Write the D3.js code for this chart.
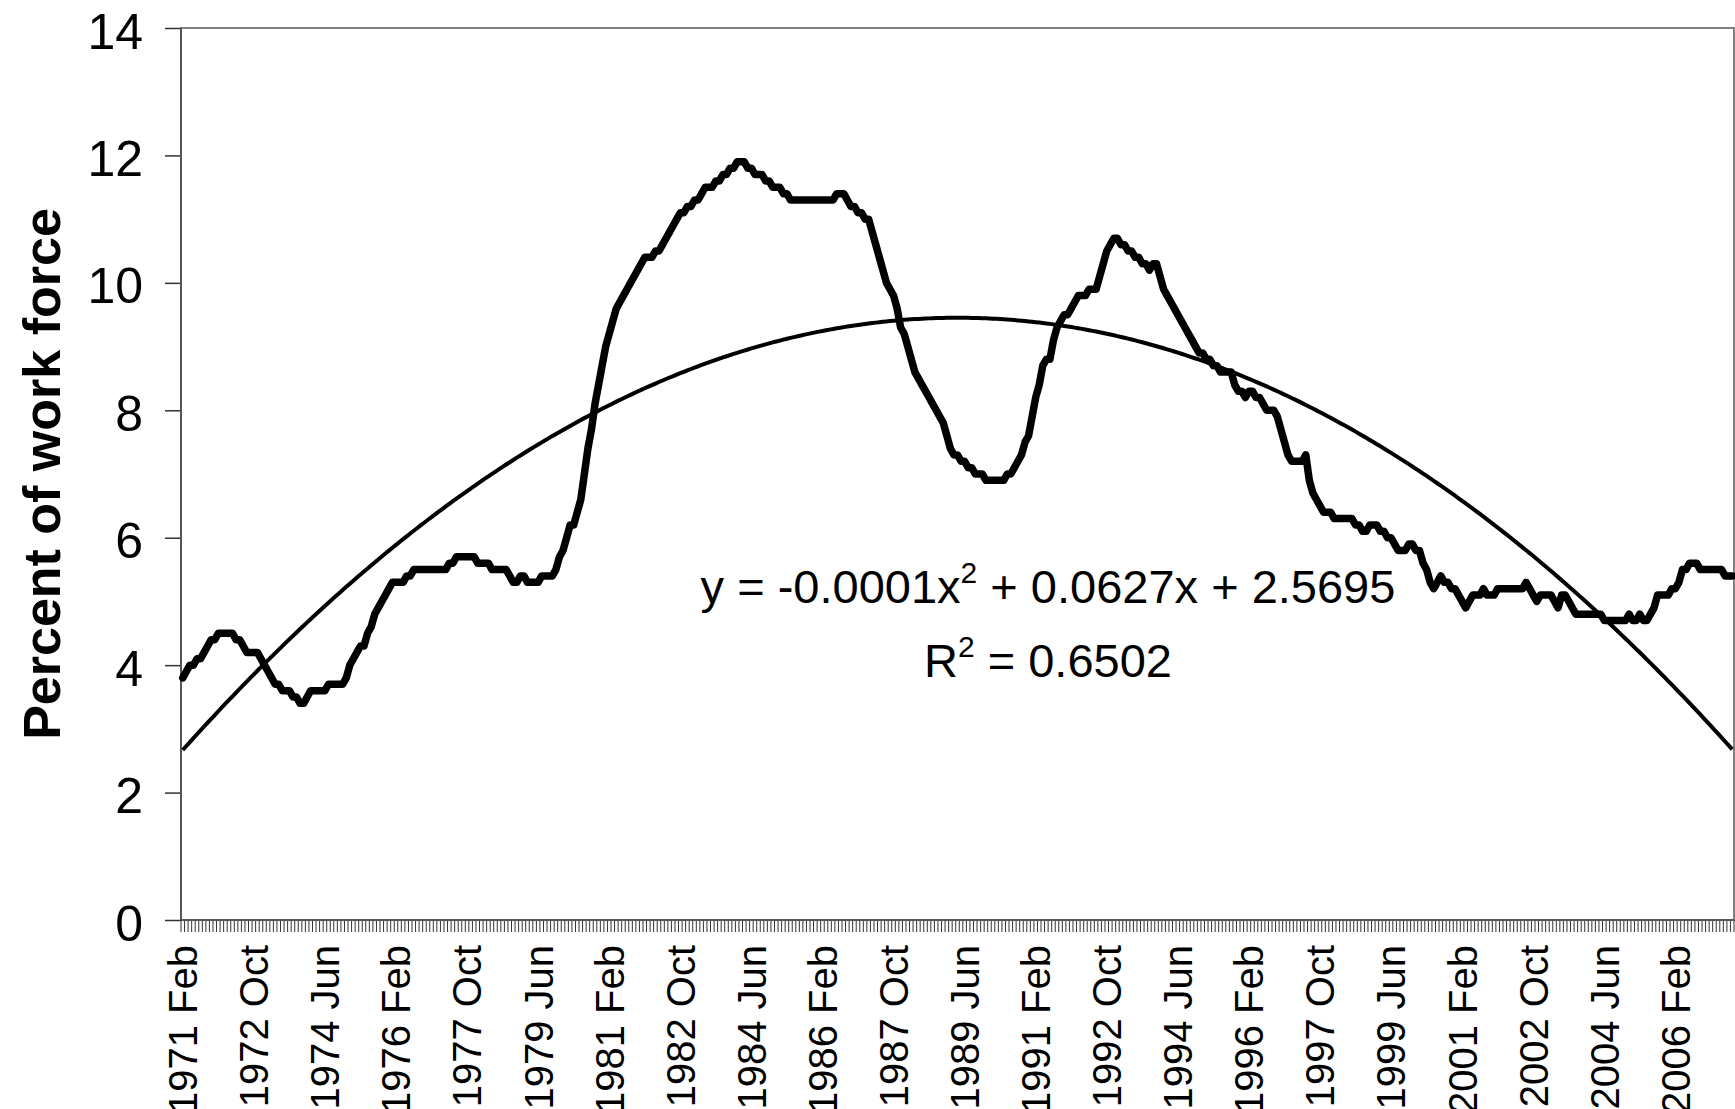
<!DOCTYPE html>
<html>
<head>
<meta charset="utf-8">
<script src="https://cdn.jsdelivr.net/npm/d3@7"></script>
<style>
  body { margin: 0; background: #fff; }
  text { font-family: "Liberation Sans", Arial, sans-serif; fill: #000; }
</style>
</head>
<body>
<script>
// chart size
const width = 1735;
const height = 1109;

// plot area
const plotLeft = 181;
const plotRight = 1734;
const plotTop = 28;
const plotBottom = 920;

// categories start in 1971 Feb, one per month
const startYear = 1971;
const startMonth = 1; // Feb
const monthNames = ["Jan", "Feb", "Mar", "Apr", "May", "Jun", "Jul", "Aug", "Sep", "Oct", "Nov", "Dec"];

// unemployment rate, percent of work force, one row per year
const rate1971 = [3.8, 3.9, 4.0, 4.0, 4.1, 4.1, 4.2, 4.3, 4.4, 4.4, 4.5];
const rate1972_1980 = [
  4.5, 4.5, 4.5, 4.5, 4.4, 4.4, 4.3, 4.2, 4.2, 4.2, 4.2, 4.1,
  4.0, 3.9, 3.8, 3.7, 3.7, 3.6, 3.6, 3.6, 3.5, 3.5, 3.4, 3.4,
  3.5, 3.6, 3.6, 3.6, 3.6, 3.6, 3.7, 3.7, 3.7, 3.7, 3.7, 3.8,
  4.0, 4.1, 4.2, 4.3, 4.3, 4.5, 4.6, 4.8, 4.9, 5.0, 5.1, 5.2,
  5.3, 5.3, 5.3, 5.3, 5.4, 5.4, 5.5, 5.5, 5.5, 5.5, 5.5, 5.5,
  5.5, 5.5, 5.5, 5.5, 5.6, 5.6, 5.7, 5.7, 5.7, 5.7, 5.7, 5.7,
  5.6, 5.6, 5.6, 5.6, 5.5, 5.5, 5.5, 5.5, 5.5, 5.4, 5.3, 5.3,
  5.4, 5.4, 5.3, 5.3, 5.3, 5.3, 5.4, 5.4, 5.4, 5.4, 5.5, 5.7,
  5.8, 6.0, 6.2, 6.2, 6.4, 6.6, 7.0, 7.4, 7.7, 8.1, 8.4, 8.7
];
const rate1981_1990 = [
  9.0, 9.2, 9.4, 9.6, 9.7, 9.8, 9.9, 10.0, 10.1, 10.2, 10.3, 10.4,
  10.4, 10.4, 10.5, 10.5, 10.6, 10.7, 10.8, 10.9, 11.0, 11.1, 11.1, 11.2,
  11.2, 11.3, 11.3, 11.4, 11.5, 11.5, 11.5, 11.6, 11.6, 11.7, 11.7, 11.8,
  11.8, 11.9, 11.9, 11.9, 11.8, 11.8, 11.7, 11.7, 11.7, 11.6, 11.6, 11.5,
  11.5, 11.5, 11.4, 11.4, 11.3, 11.3, 11.3, 11.3, 11.3, 11.3, 11.3, 11.3,
  11.3, 11.3, 11.3, 11.3, 11.3, 11.4, 11.4, 11.4, 11.3, 11.2, 11.2, 11.1,
  11.1, 11.0, 11.0, 10.8, 10.6, 10.4, 10.2, 10.0, 9.9, 9.8, 9.6, 9.3,
  9.2, 9.0, 8.8, 8.6, 8.5, 8.4, 8.3, 8.2, 8.1, 8.0, 7.9, 7.8,
  7.6, 7.4, 7.3, 7.3, 7.2, 7.2, 7.1, 7.1, 7.0, 7.0, 7.0, 6.9,
  6.9, 6.9, 6.9, 6.9, 6.9, 7.0, 7.0, 7.1, 7.2, 7.3, 7.5, 7.6
];
const rate1991_2000 = [
  7.9, 8.2, 8.4, 8.7, 8.8, 8.8, 9.1, 9.3, 9.4, 9.5, 9.5, 9.6,
  9.7, 9.8, 9.8, 9.8, 9.9, 9.9, 9.9, 10.1, 10.3, 10.5, 10.6, 10.7,
  10.7, 10.6, 10.6, 10.5, 10.5, 10.4, 10.4, 10.3, 10.3, 10.2, 10.3, 10.3,
  10.1, 9.9, 9.8, 9.7, 9.6, 9.5, 9.4, 9.3, 9.2, 9.1, 9.0, 8.9,
  8.9, 8.8, 8.8, 8.7, 8.7, 8.6, 8.6, 8.6, 8.6, 8.4, 8.3, 8.3,
  8.2, 8.3, 8.3, 8.2, 8.2, 8.1, 8.0, 8.0, 8.0, 7.9, 7.7, 7.5,
  7.3, 7.2, 7.2, 7.2, 7.2, 7.3, 6.9, 6.7, 6.6, 6.5, 6.4, 6.4,
  6.4, 6.3, 6.3, 6.3, 6.3, 6.3, 6.3, 6.2, 6.2, 6.1, 6.1, 6.2,
  6.2, 6.2, 6.1, 6.1, 6.0, 6.0, 5.9, 5.8, 5.8, 5.8, 5.9, 5.9,
  5.8, 5.8, 5.6, 5.5, 5.3, 5.2, 5.3, 5.4, 5.3, 5.3, 5.2, 5.2
];
const rate2001_2007 = [
  5.1, 5.0, 4.9, 5.0, 5.1, 5.1, 5.1, 5.2, 5.1, 5.1, 5.1, 5.2,
  5.2, 5.2, 5.2, 5.2, 5.2, 5.2, 5.2, 5.3, 5.2, 5.1, 5.0, 5.1,
  5.1, 5.1, 5.1, 5.0, 4.9, 5.1, 5.1, 5.0, 4.9, 4.8, 4.8, 4.8,
  4.8, 4.8, 4.8, 4.8, 4.8, 4.7, 4.7, 4.7, 4.7, 4.7, 4.7, 4.7,
  4.8, 4.7, 4.7, 4.8, 4.7, 4.7, 4.8, 4.9, 5.1, 5.1, 5.1, 5.1,
  5.2, 5.2, 5.3, 5.5, 5.5, 5.6, 5.6, 5.6, 5.5, 5.5, 5.5, 5.5,
  5.5, 5.5, 5.5, 5.4, 5.4, 5.4
];

const rate = [].concat(rate1971, rate1972_1980, rate1981_1990, rate1991_2000, rate2001_2007);

// axis labels
const yTicks = [0, 2, 4, 6, 8, 10, 12, 14];
const tickLabels = ["1971 Feb", "1972 Oct", "1974 Jun", "1976 Feb", "1977 Oct", "1979 Jun",
  "1981 Feb", "1982 Oct", "1984 Jun", "1986 Feb", "1987 Oct", "1989 Jun", "1991 Feb",
  "1992 Oct", "1994 Jun", "1996 Feb", "1997 Oct", "1999 Jun", "2001 Feb", "2002 Oct",
  "2004 Jun", "2006 Feb"];
const yTitle = "Percent of work force";
const trendText = ["y = -0.0001x", "2", " + 0.0627x + 2.5695"];
const rText = ["R", "2", " = 0.6502"];

// month names for each point
const categories = rate.map((v, i) => {
  let t = startMonth + i;
  return (startYear + Math.floor(t / 12)) + " " + monthNames[t % 12];
});

// quadratic least-squares trend (x = 1..n, like the spreadsheet)
function quadFit(vals) {
  let s = [0, 0, 0, 0, 0], t = [0, 0, 0];
  vals.forEach((v, i) => {
    let xx = i + 1;
    for (let k = 0; k < 5; k++) s[k] += Math.pow(xx, k);
    for (let k = 0; k < 3; k++) t[k] += v * Math.pow(xx, k);
  });
  // solve [s0 s1 s2; s1 s2 s3; s2 s3 s4] * [c0 c1 c2] = t
  let m = [[s[0], s[1], s[2], t[0]], [s[1], s[2], s[3], t[1]], [s[2], s[3], s[4], t[2]]];
  for (let i = 0; i < 3; i++) {
    for (let j = i + 1; j < 3; j++) {
      let f = m[j][i] / m[i][i];
      for (let k = i; k < 4; k++) m[j][k] -= f * m[i][k];
    }
  }
  let c = [0, 0, 0];
  for (let i = 2; i >= 0; i--) {
    let sum = m[i][3];
    for (let k = i + 1; k < 3; k++) sum -= m[i][k] * c[k];
    c[i] = sum / m[i][i];
  }
  return c;
}
const coef = quadFit(rate);
const trend = rate.map((v, i) => coef[0] + coef[1] * (i + 1) + coef[2] * (i + 1) * (i + 1));

// svg
let c = d3.select("body").append("svg")
  .attr("width", width)
  .attr("height", height);

c.append("rect")
  .attr("width", width)
  .attr("height", height)
  .attr("fill", "white");

// scales
let x = d3.scaleBand()
  .domain(d3.range(rate.length))
  .range([plotLeft, plotRight])
  .padding(0);
let bw = x.bandwidth();
let y = d3.scaleLinear()
  .domain([0, 14])
  .range([plotBottom, plotTop]);

// plot frame
c.append("rect")
  .attr("x", plotLeft)
  .attr("y", plotTop)
  .attr("width", plotRight - plotLeft)
  .attr("height", plotBottom - plotTop)
  .attr("fill", "none")
  .attr("stroke", "#808080")
  .attr("stroke-width", 2);

// y axis
let yAxis = c.append("g")
  .attr("transform", "translate(" + plotLeft + ",0)")
  .call(d3.axisLeft(y).tickValues(yTicks).tickSize(16).tickPadding(22).tickFormat(d3.format("d")));
yAxis.select(".domain").remove();
yAxis.selectAll(".tick line").attr("stroke", "#333").attr("stroke-width", 1.5);
yAxis.selectAll(".tick text")
  .style("font-size", "50px")
  .attr("dy", "0.4em");

// monthly tick marks on the x axis
c.append("g")
  .selectAll("line")
  .data(d3.range(rate.length + 1))
  .join("line")
  .attr("x1", d => (d < rate.length ? x(d) : plotRight))
  .attr("x2", d => (d < rate.length ? x(d) : plotRight))
  .attr("y1", plotBottom)
  .attr("y2", plotBottom + 12)
  .attr("stroke", "#333")
  .attr("stroke-width", 1);

// x labels
let labelIdx = tickLabels.map(l => categories.indexOf(l));
let xAxis = c.append("g")
  .attr("transform", "translate(0," + plotBottom + ")")
  .call(d3.axisBottom(x).tickValues(labelIdx).tickSize(0).tickFormat(i => categories[i]));
xAxis.select(".domain").remove();
xAxis.selectAll(".tick text")
  .style("font-size", "40px")
  .attr("text-anchor", "end")
  .attr("transform", "translate(0, 25) rotate(-90)")
  .attr("x", 0)
  .attr("y", 0)
  .attr("dy", "0.36em");

// axis lines on top of frame
c.append("line")
  .attr("x1", plotLeft).attr("x2", plotLeft)
  .attr("y1", plotTop).attr("y2", plotBottom)
  .attr("stroke", "#555").attr("stroke-width", 2);
c.append("line")
  .attr("x1", plotLeft).attr("x2", plotRight)
  .attr("y1", plotBottom).attr("y2", plotBottom)
  .attr("stroke", "#555").attr("stroke-width", 2);

// y title
c.append("text")
  .attr("transform", "translate(60," + (plotTop + plotBottom) / 2 + ") rotate(-90)")
  .attr("text-anchor", "middle")
  .style("font-size", "52px")
  .style("font-weight", "bold")
  .text(yTitle);

// lines
let line = d3.line()
  .x((d, i) => x(i) + bw / 2)
  .y(d => y(d));

c.append("path")
  .datum(trend)
  .attr("d", line)
  .attr("fill", "none")
  .attr("stroke", "black")
  .attr("stroke-width", 4);

c.append("path")
  .datum(rate)
  .attr("d", line)
  .attr("fill", "none")
  .attr("stroke", "black")
  .attr("stroke-width", 7.5)
  .attr("stroke-linejoin", "round")
  .attr("stroke-linecap", "round");

// trend equation
function eqLine(parts, yy) {
  let t = c.append("text")
    .attr("x", 1048)
    .attr("y", yy)
    .attr("text-anchor", "middle")
    .style("font-size", "47px");
  t.append("tspan").text(parts[0]);
  t.append("tspan").attr("dy", -20).style("font-size", "30px").text(parts[1]);
  t.append("tspan").attr("dy", 20).text(parts[2]);
}
eqLine(trendText, 603);
eqLine(rText, 677);
</script>
</body>
</html>
